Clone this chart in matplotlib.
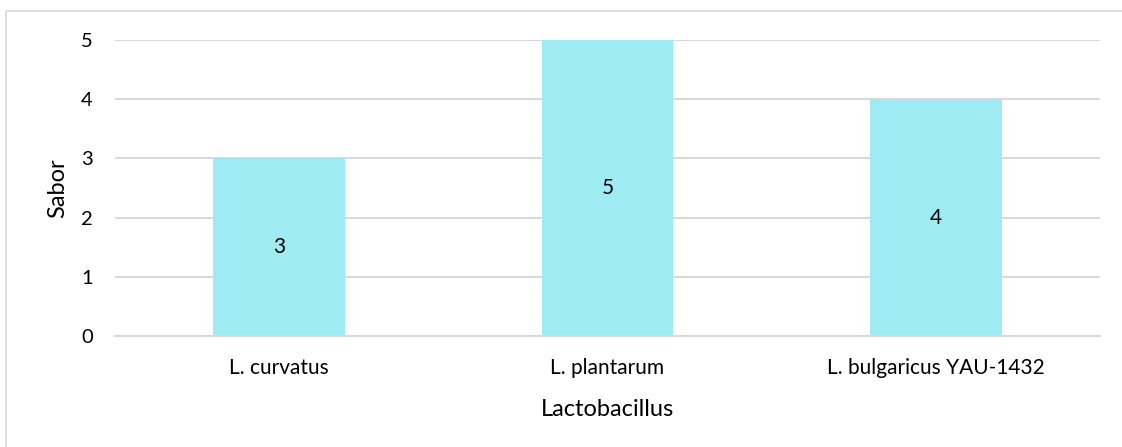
import matplotlib
matplotlib.use("Agg")
import matplotlib.pyplot as plt
from matplotlib.patches import Rectangle

categories = ["L. curvatus", "L. plantarum", "L. bulgaricus YAU-1432"]
values = [3, 5, 4]
y_ticks = [0, 1, 2, 3, 4, 5]

plt.rcParams['font.family'] = ['Lato', 'DejaVu Sans']

fig = plt.figure(figsize=(11.22, 4.47), dpi=100)
fig.patch.set_facecolor("white")

# chart-area frame (runs past the right and bottom edges of the canvas)
fig.patches.append(Rectangle((6 / 1122, -0.02), 1.0, 1 - 11 / 447 + 0.02,
                             transform=fig.transFigure, fill=False,
                             edgecolor="#D9D9D9", linewidth=1.2))

ax = fig.add_axes([115 / 1122, 1 - 336 / 447, 985 / 1122, 296 / 447])
x = range(len(categories))
bars = ax.bar(x, values, width=0.4, color="#9EEBF4", zorder=2)
for xi, v in zip(x, values):
    ax.text(xi, v / 2, str(v), ha="center", va="center", fontsize=15, color="#000000", zorder=3)

ax.set_xlim(-0.5, len(categories) - 0.5)
ax.set_ylim(0, 5)
ax.set_yticks(y_ticks)
ax.set_xticks(list(x))
ax.set_xticklabels(categories, fontsize=15)
ax.tick_params(axis="y", labelsize=14.5, length=0, pad=16)
ax.tick_params(axis="x", length=0, pad=16)
ax.grid(axis="y", color="#D9D9D9", linewidth=1.5, zorder=1)
ax.set_axisbelow(True)
for s in ["top", "right", "left"]:
    ax.spines[s].set_visible(False)
ax.spines["bottom"].set_color("#D9D9D9")
ax.spines["bottom"].set_linewidth(1.5)

ax.set_xlabel("Lactobacillus", fontsize=17, labelpad=15)
ax.set_ylabel("Sabor", fontsize=17, labelpad=9)

fig.savefig("out.png", dpi=100)
